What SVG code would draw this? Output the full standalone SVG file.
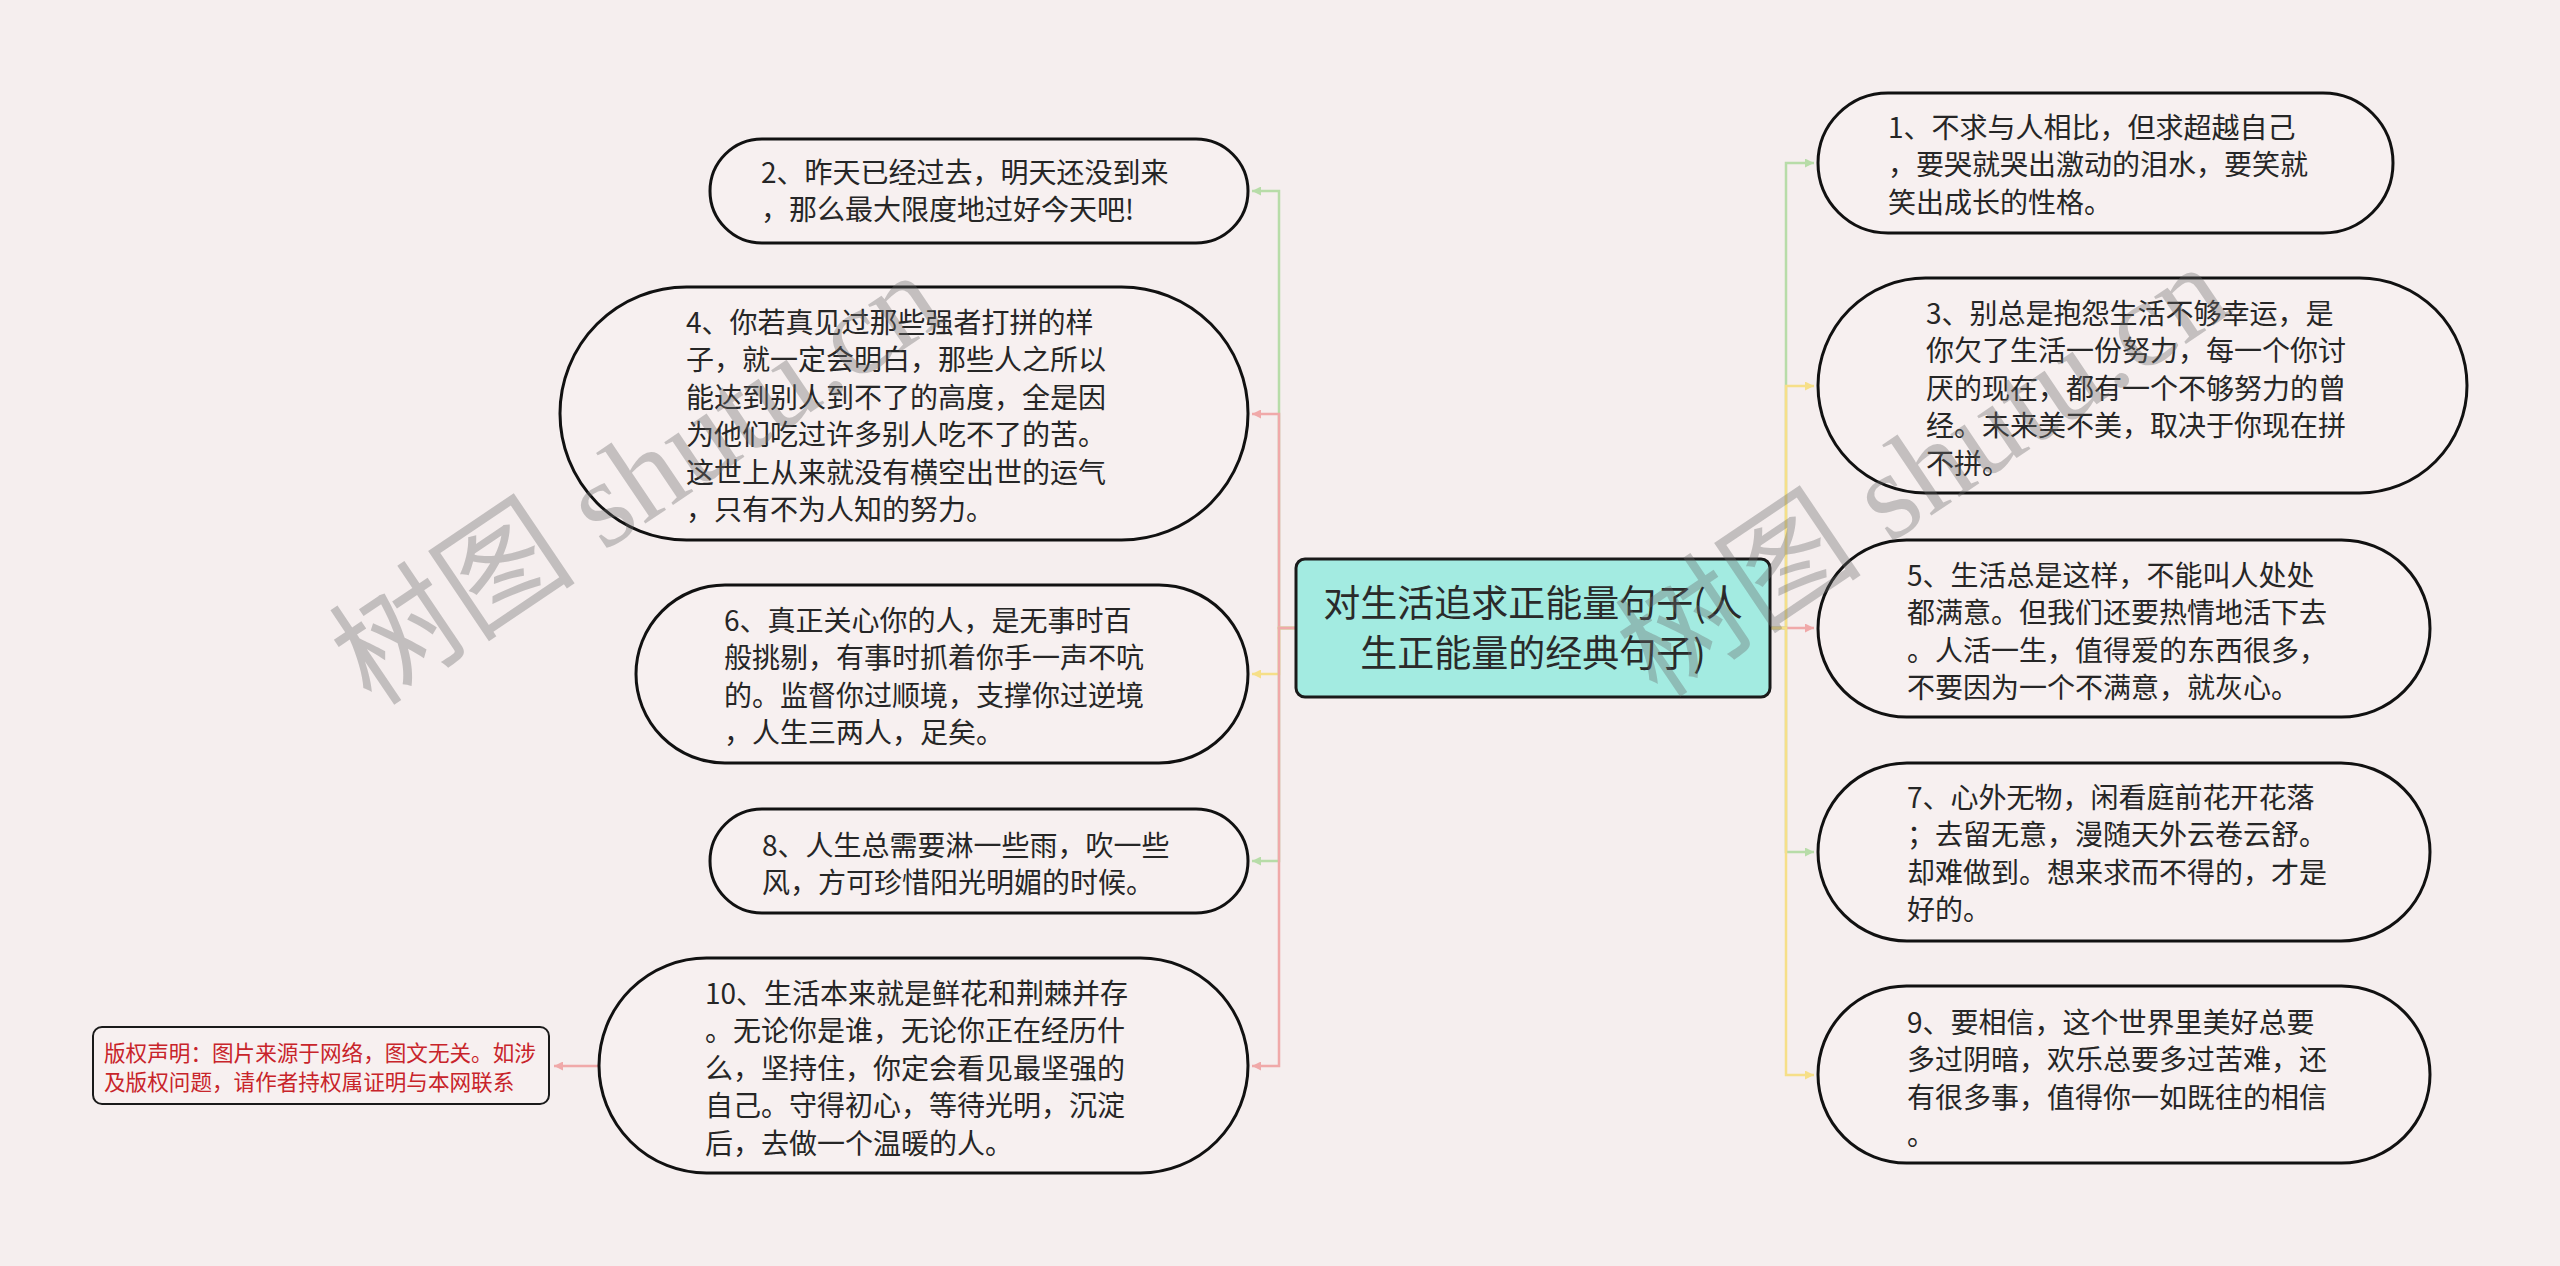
<svg xmlns="http://www.w3.org/2000/svg" width="2560" height="1266" viewBox="0 0 2560 1266">
<defs>
<style>
.bg{fill:#f5eeee}
.node{fill:#f7f0f0;stroke:#111;stroke-width:3}
.t{font-family:"Noto Sans CJK SC","Microsoft YaHei",sans-serif;font-size:28px;fill:#262626}
.ct{font-family:"Noto Sans CJK SC",sans-serif;font-size:37px;fill:#2a2a2a;text-anchor:middle}
.cr{font-family:"Noto Sans CJK SC",sans-serif;font-size:21.6px;fill:#c8242a}
.c{fill:none;stroke-width:2.5}
.g{stroke:#b7dca8}
.p{stroke:#f0a9a9}
.y{stroke:#f6df88}
.wm{font-family:"Liberation Serif","Noto Sans CJK SC",serif;font-size:124px;fill:#6a6a6a;fill-opacity:0.36}
</style>
<marker id="ag" viewBox="0 0 10 10" refX="10" refY="5" markerWidth="11" markerHeight="9" markerUnits="userSpaceOnUse" orient="auto"><path d="M0,0 L10,5 L0,10 z" fill="#b7dca8"/></marker>
<marker id="ap" viewBox="0 0 10 10" refX="10" refY="5" markerWidth="11" markerHeight="9" markerUnits="userSpaceOnUse" orient="auto"><path d="M0,0 L10,5 L0,10 z" fill="#f0a9a9"/></marker>
<marker id="ay" viewBox="0 0 10 10" refX="10" refY="5" markerWidth="11" markerHeight="9" markerUnits="userSpaceOnUse" orient="auto"><path d="M0,0 L10,5 L0,10 z" fill="#f6df88"/></marker>
</defs>
<rect class="bg" x="0" y="0" width="2560" height="1266"/>

<g id="connectors">
<path class="c g" d="M1296,628 H1279 V191 H1252" marker-end="url(#ag)"/>
<path class="c p" d="M1296,628 H1279 V414 H1252" marker-end="url(#ap)"/>
<path class="c y" d="M1296,628 H1279 V674 H1252" marker-end="url(#ay)"/>
<path class="c g" d="M1296,628 H1279 V861 H1252" marker-end="url(#ag)"/>
<path class="c p" d="M1296,628 H1279 V1066 H1252" marker-end="url(#ap)"/>
<path class="c g" d="M1770,628 H1786 V163 H1814" marker-end="url(#ag)"/>
<path class="c y" d="M1770,628 H1786 V386 H1814" marker-end="url(#ay)"/>
<path class="c p" d="M1770,628 H1786 V628 H1814" marker-end="url(#ap)"/>
<path class="c g" d="M1770,628 H1786 V852 H1814" marker-end="url(#ag)"/>
<path class="c y" d="M1770,628 H1786 V1075 H1814" marker-end="url(#ay)"/>
<path class="c p" d="M599,1066 H554" marker-end="url(#ap)"/>
</g>

<g id="center">
<rect x="1296" y="559" width="474" height="138" rx="9" fill="#a3ebe1" stroke="#1a1a1a" stroke-width="3"/>
<text class="ct" x="1533" y="617">对生活追求正能量句子(人</text>
<text class="ct" x="1533" y="667">生正能量的经典句子)</text>
</g>

<g id="node2">
<rect class="node" x="710" y="139" width="538" height="104" rx="52"/>
<text class="t" x="761" y="182.5">2、昨天已经过去，明天还没到来</text>
<text class="t" x="761" y="220">，那么最大限度地过好今天吧!</text>
</g>

<g id="node4">
<rect class="node" x="560" y="287" width="688" height="253" rx="126.5"/>
<text class="t" x="686" y="332.5">4、你若真见过那些强者打拼的样</text>
<text class="t" x="686" y="370">子，就一定会明白，那些人之所以</text>
<text class="t" x="686" y="407.5">能达到别人到不了的高度，全是因</text>
<text class="t" x="686" y="445">为他们吃过许多别人吃不了的苦。</text>
<text class="t" x="686" y="482.5">这世上从来就没有横空出世的运气</text>
<text class="t" x="686" y="520">，只有不为人知的努力。</text>
</g>

<g id="node6">
<rect class="node" x="636" y="585" width="612" height="178" rx="89"/>
<text class="t" x="724" y="630.5">6、真正关心你的人，是无事时百</text>
<text class="t" x="724" y="668">般挑剔，有事时抓着你手一声不吭</text>
<text class="t" x="724" y="705.5">的。监督你过顺境，支撑你过逆境</text>
<text class="t" x="724" y="743">，人生三两人，足矣。</text>
</g>

<g id="node8">
<rect class="node" x="710" y="809" width="538" height="104" rx="52"/>
<text class="t" x="762" y="855.5">8、人生总需要淋一些雨，吹一些</text>
<text class="t" x="762" y="893">风，方可珍惜阳光明媚的时候。</text>
</g>

<g id="node10">
<rect class="node" x="599" y="958" width="649" height="215" rx="107.5"/>
<text class="t" x="705" y="1003.5">10、生活本来就是鲜花和荆棘并存</text>
<text class="t" x="705" y="1041">。无论你是谁，无论你正在经历什</text>
<text class="t" x="705" y="1078.5">么，坚持住，你定会看见最坚强的</text>
<text class="t" x="705" y="1116">自己。守得初心，等待光明，沉淀</text>
<text class="t" x="705" y="1153.5">后，去做一个温暖的人。</text>
</g>

<g id="copyright">
<rect x="93" y="1027" width="456" height="77" rx="9" fill="#f7f0f0" stroke="#1a1a1a" stroke-width="2"/>
<text class="cr" x="104" y="1061">版权声明：图片来源于网络，图文无关。如涉</text>
<text class="cr" x="104" y="1090">及版权问题，请作者持权属证明与本网联系</text>
</g>

<g id="node1">
<rect class="node" x="1818" y="93" width="575" height="140" rx="70"/>
<text class="t" x="1888" y="137.5">1、不求与人相比，但求超越自己</text>
<text class="t" x="1888" y="175">，要哭就哭出激动的泪水，要笑就</text>
<text class="t" x="1888" y="212.5">笑出成长的性格。</text>
</g>

<g id="node3">
<rect class="node" x="1818" y="278" width="649" height="215" rx="107.5"/>
<text class="t" x="1926" y="323.5">3、别总是抱怨生活不够幸运，是</text>
<text class="t" x="1926" y="361">你欠了生活一份努力，每一个你讨</text>
<text class="t" x="1926" y="398.5">厌的现在，都有一个不够努力的曾</text>
<text class="t" x="1926" y="436">经。未来美不美，取决于你现在拼</text>
<text class="t" x="1926" y="473.5">不拼。</text>
</g>

<g id="node5">
<rect class="node" x="1818" y="540" width="612" height="177" rx="88.5"/>
<text class="t" x="1907" y="585.5">5、生活总是这样，不能叫人处处</text>
<text class="t" x="1907" y="623">都满意。但我们还要热情地活下去</text>
<text class="t" x="1907" y="660.5">。人活一生，值得爱的东西很多，</text>
<text class="t" x="1907" y="698">不要因为一个不满意，就灰心。</text>
</g>

<g id="node7">
<rect class="node" x="1818" y="763" width="612" height="178" rx="89"/>
<text class="t" x="1907" y="807.5">7、心外无物，闲看庭前花开花落</text>
<text class="t" x="1907" y="845">；去留无意，漫随天外云卷云舒。</text>
<text class="t" x="1907" y="882.5">却难做到。想来求而不得的，才是</text>
<text class="t" x="1907" y="920">好的。</text>
</g>

<g id="node9">
<rect class="node" x="1818" y="986" width="612" height="177" rx="88.5"/>
<text class="t" x="1907" y="1032.5">9、要相信，这个世界里美好总要</text>
<text class="t" x="1907" y="1070">多过阴暗，欢乐总要多过苦难，还</text>
<text class="t" x="1907" y="1107.5">有很多事，值得你一如既往的相信</text>
<text class="t" x="1907" y="1145">。</text>
</g>

<g id="watermarks">
<text class="wm" transform="translate(372,708) rotate(-34)">树图 shutu.cn</text>
<text class="wm" transform="translate(1658,700) rotate(-34)">树图 shutu.cn</text>
</g>
</svg>
